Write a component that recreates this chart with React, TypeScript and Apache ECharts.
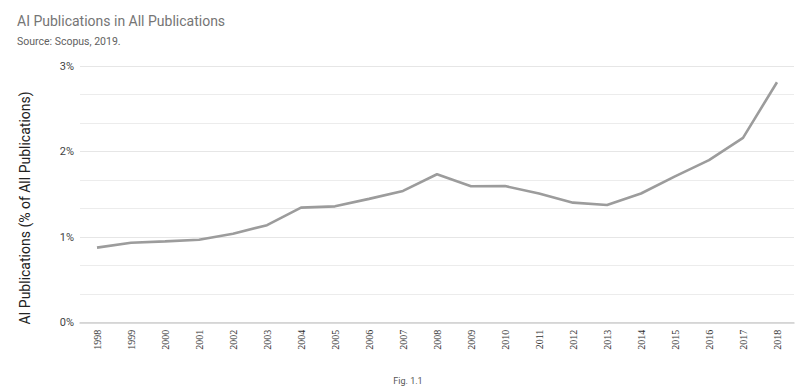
import React, { useEffect, useRef } from "react";
import * as echarts from "echarts";

const years = ["1998","1999","2000","2001","2002","2003","2004","2005","2006","2007","2008","2009","2010","2011","2012","2013","2014","2015","2016","2017","2018"];
const aiShare = [0.877, 0.934, 0.95, 0.97, 1.04, 1.14, 1.345, 1.36, 1.447, 1.54, 1.735, 1.594, 1.597, 1.509, 1.403, 1.376, 1.51, 1.71, 1.9, 2.16, 2.81];
const yTicks = [0, 1, 2, 3];

export default function App() {
  const ref = useRef<HTMLDivElement>(null);
  useEffect(() => {
    const chart = echarts.init(ref.current!, null, { renderer: "svg" });
    chart.setOption({
      animation: false,
      backgroundColor: "#ffffff",
      title: {
        text: "AI Publications in All Publications",
        subtext: "Source: Scopus, 2019.",
        left: 17,
        top: 14,
        itemGap: 8,
        textStyle: { fontFamily: "Roboto", fontSize: 14, fontWeight: "normal", color: "#757575" },
        subtextStyle: { fontFamily: "Roboto", fontSize: 10.5, color: "#616161" },
        padding: 0,
      },
      grid: { left: 80, right: 6, top: 66, bottom: 386 - 322.7 },
      xAxis: {
        type: "category",
        data: years,
        boundaryGap: true,
        axisLine: { show: true, lineStyle: { color: "#cfcfcf", width: 1.5 } },
        axisTick: { show: false },
        axisLabel: {
          rotate: 90,
          fontFamily: "Liberation Serif",
          fontSize: 10,
          color: "#333",
          margin: 7,
          interval: 0,
        },
      },
      yAxis: {
        type: "value",
        min: 0,
        max: 3,
        interval: 1,
        axisLine: { show: false },
        axisTick: { show: false },
        axisLabel: {
          fontFamily: "Roboto",
          fontSize: 11,
          color: "#444",
          margin: 6,
          formatter: (v: number) => (yTicks.includes(v) ? v + "%" : ""),
        },
        splitLine: { show: true, lineStyle: { color: "#e6e6e6", width: 1 } },
        minorTick: { show: false, splitNumber: 3 },
        minorSplitLine: { show: true, lineStyle: { color: "#ececec", width: 1 } },
      },
      graphic: [
        {
          type: "text",
          x: 25,
          y: 208,
          rotation: Math.PI / 2,
          style: {
            text: "AI Publications (% of All Publications)",
            fontFamily: "Roboto",
            fontSize: 14,
            fill: "#222",
            align: "center",
            verticalAlign: "middle",
          },
        },
        {
          type: "text",
          x: 408,
          y: 385,
          style: {
            text: "Fig. 1.1",
            fontFamily: "Roboto",
            fontSize: 9,
            fill: "#555",
            align: "center",
            verticalAlign: "bottom",
          },
        },
      ],
      series: [
        {
          type: "line",
          data: aiShare,
          symbol: "none",
          lineStyle: { color: "#9c9c9c", width: 2.6 },
        },
      ],
    });
    return () => chart.dispose();
  }, []);
  return <div ref={ref} style={{ position: "fixed", left: 0, top: 0, width: 800, height: 386 }} />;
}
